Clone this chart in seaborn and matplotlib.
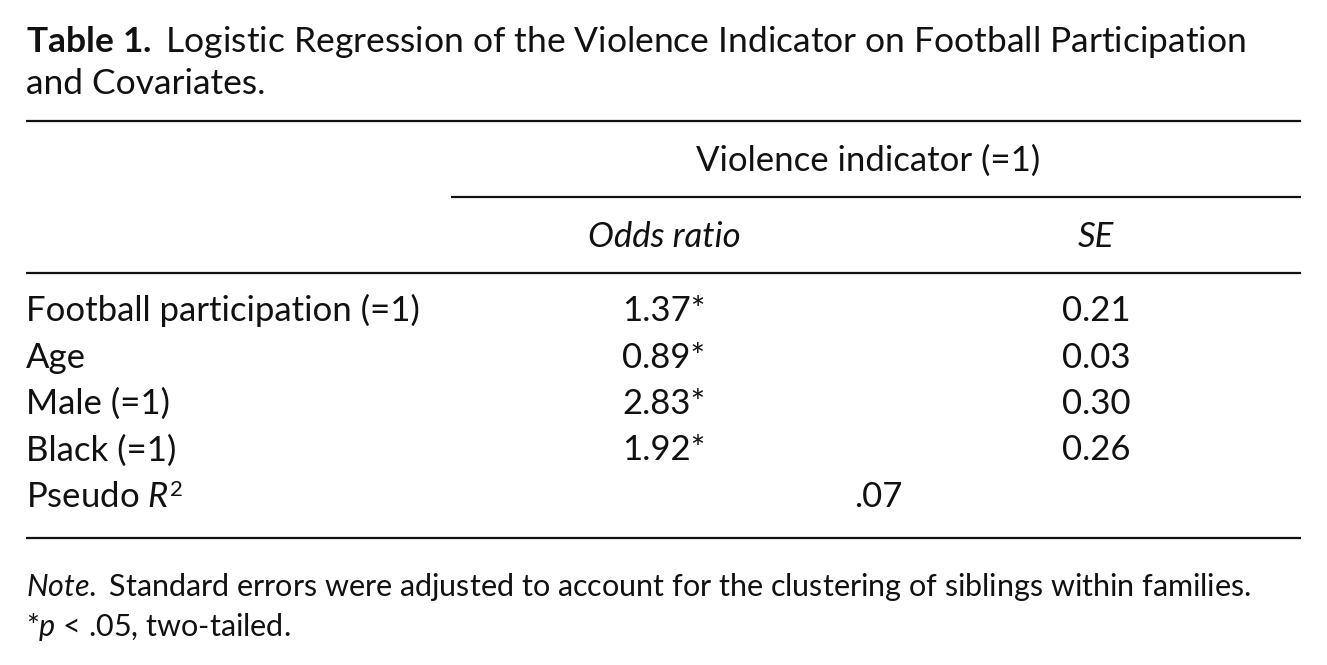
import matplotlib
matplotlib.use("Agg")
import matplotlib.pyplot as plt
import seaborn as sns

# table contents
title_bold = "Table 1."
title_rest = ["Logistic Regression of the Violence Indicator on Football Participation",
              "and Covariates."]
outcome = "Violence indicator (=1)"
col_heads = ["Odds ratio", "SE"]
terms = ["Football participation (=1)", "Age", "Male (=1)", "Black (=1)"]
odds = [1.37, 0.89, 2.83, 1.92]
se = [0.21, 0.03, 0.30, 0.26]
signif = [True, True, True, True]
pseudo_r2 = ".07"
note = "Standard errors were adjusted to account for the clustering of siblings within families."
sig_note = " < .05, two-tailed."

sns.set_theme(style="white")
plt.rcParams["font.family"] = ["Lato", "DejaVu Sans"]
plt.rcParams["mathtext.fontset"] = "custom"
plt.rcParams["mathtext.rm"] = "Lato"
plt.rcParams["mathtext.it"] = "Lato:italic"
plt.rcParams["mathtext.bf"] = "Lato:bold"

W, H = 1327, 665
fig = plt.figure(figsize=(W / 100, H / 100), dpi=100)
fig.patch.set_facecolor("white")
ax = fig.add_axes([0, 0, 1, 1])
ax.set_xlim(0, W)
ax.set_ylim(H, 0)
ax.axis("off")

fs_title = 25.5
fs = 25          # table body
fs_note = 22     # notes under the table
left, right = 26, 1301
x_or, x_se, x_mid = 664, 1096, 868
ink = "#111111"

# title
ax.text(left, 52, r"$\mathbf{Table\ 1.}$ " + title_rest[0], fontsize=fs_title, color=ink, va="baseline")
ax.text(left, 94, title_rest[1], fontsize=fs_title, color=ink, va="baseline")

# rules
lw = 1.6
ax.hlines(121, left, right, color=ink, lw=lw)
ax.hlines(197, 451, right, color=ink, lw=lw)
ax.hlines(273, left, right, color=ink, lw=lw)
ax.hlines(538, left, right, color=ink, lw=lw)

# headers
ax.text(x_mid, 171, outcome, fontsize=fs, color=ink, ha="center", va="baseline")
ax.text(x_or, 247, col_heads[0], fontsize=fs, color=ink, ha="center", va="baseline", style="italic")
ax.text(x_se, 247, col_heads[1], fontsize=fs, color=ink, ha="center", va="baseline", style="italic")

# body rows
y0, dy = 321, 46.5
for i, (t, o, s, sg) in enumerate(zip(terms, odds, se, signif)):
    y = y0 + i * dy
    ax.text(left, y, t, fontsize=fs, color=ink, va="baseline")
    ax.text(x_or, y, f"{o:.2f}" + ("*" if sg else ""), fontsize=fs, color=ink, ha="center", va="baseline")
    ax.text(x_se, y, f"{s:.2f}", fontsize=fs, color=ink, ha="center", va="baseline")

y = y0 + len(terms) * dy
r2_label = ax.text(left, y, r"Pseudo $\mathit{R}$", fontsize=fs, color=ink, va="baseline")
# superscript 2 placed just after the italic R
ax.annotate("2", xy=(1, 1), xycoords=r2_label, xytext=(1, 1), textcoords="offset points",
            fontsize=16, color=ink, ha="left", va="top")
ax.text(878, y, pseudo_r2, fontsize=fs, color=ink, ha="center", va="baseline")

# notes
ax.text(left, 596, r"$\mathit{Note.}$ " + note, fontsize=fs_note, color=ink, va="baseline")
ax.text(left, 636, r"*$\mathit{p}$" + sig_note, fontsize=fs_note, color=ink, va="baseline")

fig.savefig("out.png", dpi=100, facecolor="white")
